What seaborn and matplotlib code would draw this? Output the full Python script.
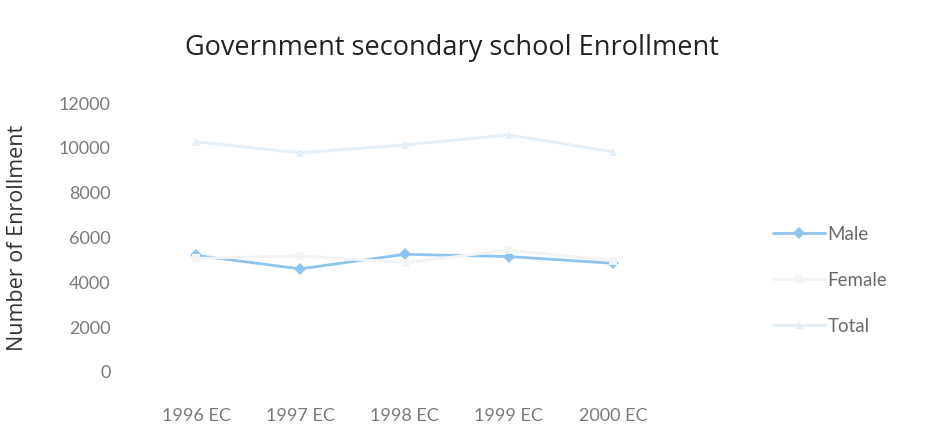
import matplotlib
matplotlib.use("Agg")
import matplotlib.pyplot as plt
import seaborn as sns
import pandas as pd

# Enrollment by academic year (Ethiopian calendar)
years = ["1996 EC", "1997 EC", "1998 EC", "1999 EC", "2000 EC"]
male = [5200, 4600, 5250, 5150, 4850]
female = [5070, 5180, 4880, 5430, 4970]
total = [10270, 9780, 10130, 10580, 9820]
y_ticks = [0, 2000, 4000, 6000, 8000, 10000, 12000]

df = pd.DataFrame({
    "Year": years * 3,
    "Enrollment": male + female + total,
    "Series": ["Male"] * 5 + ["Female"] * 5 + ["Total"] * 5,
})

sns.set_theme(style="white")
plt.rcParams["font.family"] = ["Lato", "DejaVu Sans"]

fig = plt.figure(figsize=(9.29, 4.46), dpi=100)
ax = fig.add_axes([0.155, 0.166, 0.561, 0.603])

palette = {"Male": "#8ec5ee", "Female": "#f3f3f3", "Total": "#e3eff9"}
sns.lineplot(
    data=df, x="Year", y="Enrollment", hue="Series", style="Series",
    markers={"Male": "D", "Female": "s", "Total": "^"},
    dashes=False, palette=palette, linewidth=2.0, markersize=6,
    markeredgewidth=0, ax=ax,
)

ax.set_xlim(-0.5, len(years) - 0.5)
ax.set_ylim(0, 12000)
ax.set_yticks(y_ticks)
ax.set_yticklabels([str(v) for v in y_ticks])
ax.tick_params(axis="both", length=0, labelsize=13, labelcolor="#7a7a7a")
ax.tick_params(axis="y", pad=24)
ax.tick_params(axis="x", pad=26)
for s in ax.spines.values():
    s.set_visible(False)
ax.grid(False)
ax.set_xlabel("")
ax.set_ylabel("Number of Enrollment", fontsize=15.5, color="#333333",
              family=["Open Sans", "DejaVu Sans"])
ax.yaxis.set_label_coords(-0.222, 0.5)

fig.text(0.487, 0.892, "Government secondary school Enrollment",
         ha="center", va="center", fontsize=19.5, color="#222222",
         family=["Open Sans", "DejaVu Sans"])

leg = fig.legend(*ax.get_legend_handles_labels(), loc="center left",
                 bbox_to_anchor=(0.832, 0.372), frameon=False,
                 fontsize=13.5, handlelength=2.8, handletextpad=0.1,
                 labelspacing=1.55, borderpad=0, borderaxespad=0)
ax.get_legend().remove()
for t in leg.get_texts():
    t.set_color("#6a6a6a")

fig.savefig("out.png", dpi=100, facecolor="white")
